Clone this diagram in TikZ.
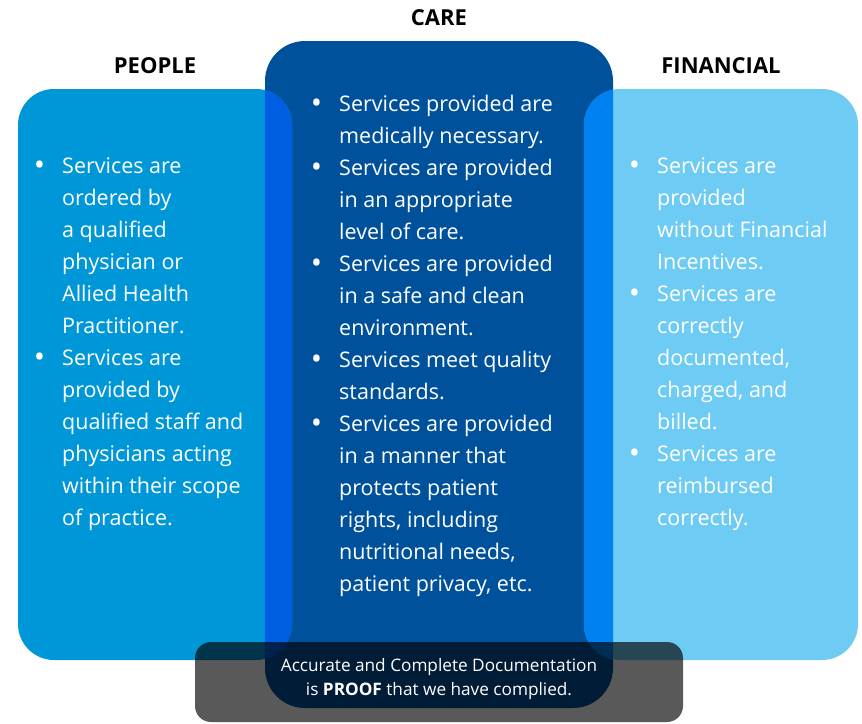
\documentclass[tikz,border=0pt]{standalone}
\usepackage{fontspec}
\setmainfont{Open Sans}
\usepackage{tikz}
\usetikzlibrary{positioning}
\definecolor{peopleblue}{HTML}{0097D8}
\definecolor{careblue}{HTML}{00519B}
\definecolor{finblue}{HTML}{6ECBF3}
\definecolor{lapleft}{HTML}{005FE0}
\definecolor{lapright}{HTML}{0081F2}
\tikzstyle{colbox}=[inner sep=0pt,minimum width=274pt,minimum height=571pt,rounded corners=36pt]
\tikzstyle{head}=[inner sep=0pt,font={\fontsize{22}{26}\selectfont\bfseries}]
\tikzstyle{coltext}=[inner sep=0pt,anchor=base west,align=left,text=white,font={\fontsize{21.5}{32}\selectfont}]
\newcommand{\pbul}{\llap{\raisebox{-2pt}{\fontsize{30}{32}\selectfont•}\hspace{17pt}}}

\begin{document}
\begin{tikzpicture}[x=1pt,y=-1pt]
	\useasboundingbox (0,0) rectangle (862,723);
	\node(care)[fill=careblue,inner sep=0pt,minimum width=348pt,minimum height=667pt,rounded corners=40pt] at (439,374.5){};
	\node(people)[colbox,fill=peopleblue] at (155,374.5){};
	\node(fin)[colbox,fill=finblue] at (721,374.5){};

	% overlaps
	\begin{scope}
		\clip[rounded corners=36pt] (people.south west) rectangle (people.north east);
		\fill[lapleft,rounded corners=40pt] (care.south west) rectangle (care.north east);
	\end{scope}
	\begin{scope}
		\clip[rounded corners=36pt] (fin.south west) rectangle (fin.north east);
		\fill[lapright,rounded corners=40pt] (care.south west) rectangle (care.north east);
	\end{scope}

	\node(hpeople)[head,above=15pt of people]{PEOPLE};
	\node(hcare)[head,above=15pt of care]{CARE};
	\node(hfin)[head,above=15pt of fin]{FINANCIAL};

	% base anchor = last line
	\node(tpeople)[coltext] at (62,525){\pbul Services are\\ordered by\\a qualified\\physician or\\Allied Health\\Practitioner.\\
		\pbul Services are\\provided by\\qualified staff and\\physicians acting\\within their scope\\of practice.};
	\node(tcare)[coltext] at (339,591){\pbul Services provided are\\medically necessary.\\
		\pbul Services are provided\\in an appropriate\\level of care.\\
		\pbul Services are provided\\in a safe and clean\\environment.\\
		\pbul Services meet quality\\standards.\\
		\pbul Services are provided\\in a manner that\\protects patient\\rights, including\\nutritional needs,\\patient privacy, etc.};
	\node(tfin)[coltext] at (657,525){\pbul Services are\\provided\\without Financial\\Incentives.\\
		\pbul Services are\\correctly\\documented,\\charged, and\\billed.\\
		\pbul Services are\\reimbursed\\correctly.};

	\node(docs)[fill=black,fill opacity=0.65,inner sep=0pt,minimum width=488pt,minimum height=80pt,rounded corners=16pt] at (439,682){};
	\node(proof)[below=16pt of docs.north,inner sep=0pt,align=center,text=white,font={\fontsize{17.2}{24}\selectfont}]
		{Accurate and Complete Documentation\\is \textbf{PROOF} that we have complied.};
\end{tikzpicture}
\end{document}
